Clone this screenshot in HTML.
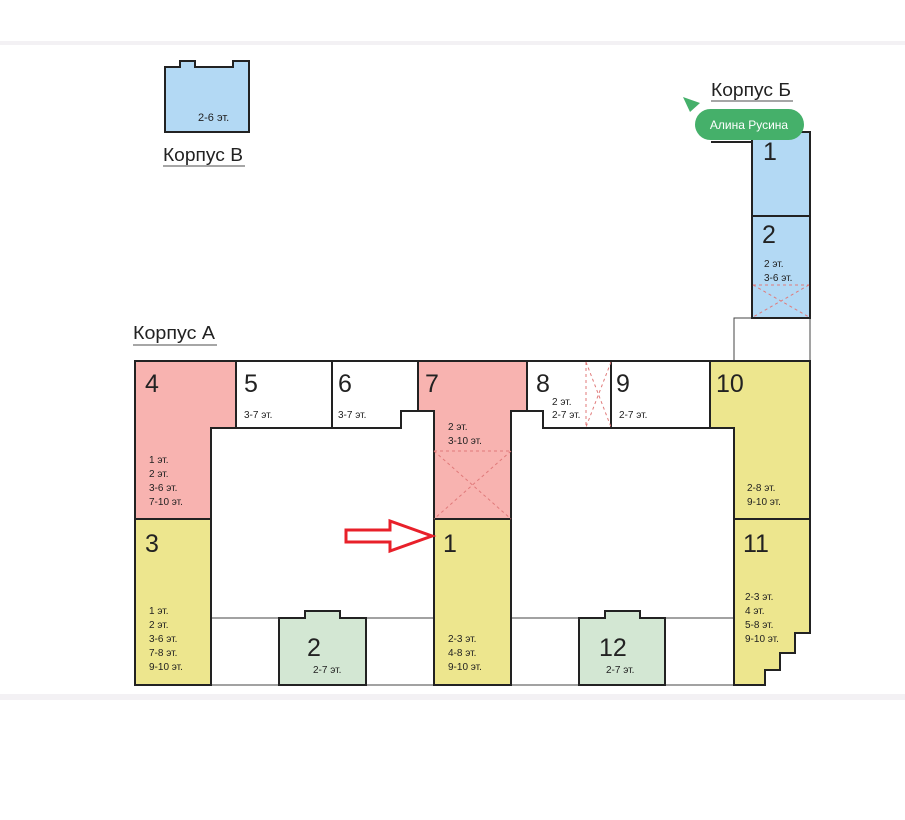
<!DOCTYPE html>
<html><head><meta charset="utf-8"><style>
html,body{margin:0;padding:0;background:#fff;}
svg{display:block;}
text{font-family:"Liberation Sans",sans-serif;fill:#222;}
.n{font-size:25px;}
.s{font-size:10px;}
.l{font-size:18px;}
</style></head><body>
<svg width="905" height="820" viewBox="0 0 905 820" xmlns="http://www.w3.org/2000/svg">
<rect x="0" y="41" width="905" height="4" fill="#f3f1f4"/>
<rect x="0" y="694" width="905" height="6" fill="#f3f1f4"/>

<!-- Korpus V -->
<polygon points="165,67 180,67 180,61 195,61 195,67 233,67 233,61 249,61 249,132 165,132" fill="#b3d9f4" stroke="#222" stroke-width="2"/>
<text class="s" x="198" y="121" style="font-size:11px">2-6 эт.</text>
<text class="l" x="163" y="161" textLength="80" lengthAdjust="spacingAndGlyphs">Корпус В</text>
<line x1="163" y1="166" x2="245" y2="166" stroke="#888" stroke-width="1.5"/>

<!-- Korpus A label -->
<text class="l" x="133" y="339" textLength="82" lengthAdjust="spacingAndGlyphs">Корпус А</text>
<line x1="133" y1="345" x2="217" y2="345" stroke="#888" stroke-width="1.5"/>

<!-- thin lines -->
<g stroke="#444" stroke-width="1" fill="none">
<line x1="211" y1="618" x2="434" y2="618"/>
<line x1="511" y1="618" x2="734" y2="618"/>
<line x1="135" y1="685" x2="734" y2="685"/>
<rect x="734" y="318" width="76" height="43"/>
</g>

<g stroke="#222" stroke-width="2">
<!-- 4 -->
<polygon points="135,361 236,361 236,428 211,428 211,519 135,519" fill="#f8b3b0"/>
<!-- 3 -->
<rect x="135" y="519" width="76" height="166" fill="#ede68e"/>
<!-- 5 -->
<rect x="236" y="361" width="96" height="67" fill="#fff"/>
<!-- 6 -->
<polygon points="332,361 418,361 418,411 401,411 401,428 332,428" fill="#fff"/>
<!-- 7 -->
<polygon points="418,361 527,361 527,411 511,411 511,519 434,519 434,411 418,411" fill="#f8b3b0"/>
<!-- 1 -->
<rect x="434" y="519" width="77" height="166" fill="#ede68e"/>
<!-- 8 -->
<polygon points="527,361 611,361 611,428 543,428 543,411 527,411" fill="#fff"/>
<!-- 9 -->
<rect x="611" y="361" width="99" height="67" fill="#fff"/>
<!-- 10 -->
<polygon points="710,361 810,361 810,519 734,519 734,428 710,428" fill="#ede68e"/>
<!-- 11 -->
<polygon points="734,519 810,519 810,633 795,633 795,653 780,653 780,670 765,670 765,685 734,685" fill="#ede68e"/>
<!-- green -->
<polygon points="279,618 305,618 305,611 340,611 340,618 366,618 366,685 279,685" fill="#d3e7d3"/>
<polygon points="579,618 605,618 605,611 640,611 640,618 665,618 665,685 579,685" fill="#d3e7d3"/>
<!-- Korpus B -->
<rect x="752" y="132" width="58" height="186" fill="#b3d9f4"/>
<line x1="752" y1="216" x2="810" y2="216"/>
<polyline points="711,142 752,142 752,150" fill="none"/>
</g>

<!-- hatches -->
<g stroke="#e07a7a" stroke-width="1" stroke-dasharray="3,3" fill="none">
<line x1="434" y1="451" x2="511" y2="451"/>
<line x1="434" y1="451" x2="511" y2="519"/>
<line x1="511" y1="451" x2="434" y2="519"/>
<line x1="586" y1="362" x2="586" y2="427"/>
<line x1="586" y1="362" x2="611" y2="427"/>
<line x1="611" y1="362" x2="586" y2="427"/>
<line x1="753" y1="285" x2="809" y2="285"/>
<line x1="753" y1="285" x2="809" y2="317"/>
<line x1="809" y1="285" x2="753" y2="317"/>
</g>

<!-- numbers -->
<text class="n" x="145" y="392">4</text>
<text class="n" x="244" y="392">5</text>
<text class="n" x="338" y="392">6</text>
<text class="n" x="425" y="392">7</text>
<text class="n" x="536" y="392">8</text>
<text class="n" x="616" y="392">9</text>
<text class="n" x="716" y="392">10</text>
<text class="n" x="145" y="552">3</text>
<text class="n" x="443" y="552">1</text>
<text class="n" x="743" y="552">11</text>
<text class="n" x="307" y="656">2</text>
<text class="n" x="599" y="656">12</text>
<text class="n" x="763" y="160">1</text>
<text class="n" x="762" y="243">2</text>

<!-- small labels -->
<g class="s">
<text x="244" y="418">3-7 эт.</text>
<text x="338" y="418">3-7 эт.</text>
<text x="448" y="430">2 эт.</text>
<text x="448" y="444">3-10 эт.</text>
<text x="552" y="405">2 эт.</text>
<text x="552" y="418">2-7 эт.</text>
<text x="619" y="418">2-7 эт.</text>
<text x="149" y="463">1 эт.</text>
<text x="149" y="477">2 эт.</text>
<text x="149" y="491">3-6 эт.</text>
<text x="149" y="505">7-10 эт.</text>
<text x="149" y="614">1 эт.</text>
<text x="149" y="628">2 эт.</text>
<text x="149" y="642">3-6 эт.</text>
<text x="149" y="656">7-8 эт.</text>
<text x="149" y="670">9-10 эт.</text>
<text x="448" y="642">2-3 эт.</text>
<text x="448" y="656">4-8 эт.</text>
<text x="448" y="670">9-10 эт.</text>
<text x="313" y="673">2-7 эт.</text>
<text x="606" y="673">2-7 эт.</text>
<text x="747" y="491">2-8 эт.</text>
<text x="747" y="505">9-10 эт.</text>
<text x="745" y="600">2-3 эт.</text>
<text x="745" y="614">4 эт.</text>
<text x="745" y="628">5-8 эт.</text>
<text x="745" y="642">9-10 эт.</text>
<text x="764" y="267">2 эт.</text>
<text x="764" y="281">3-6 эт.</text>
</g>

<!-- Korpus B label -->
<text class="l" x="711" y="96" textLength="80" lengthAdjust="spacingAndGlyphs">Корпус Б</text>
<line x1="711" y1="101" x2="793" y2="101" stroke="#888" stroke-width="1.5"/>

<!-- green pill -->
<polygon points="683,97 700,103 690,112" fill="#45b06a"/>
<rect x="695" y="109" width="109" height="31" rx="15.5" fill="#45b06a"/>
<text x="749" y="129" text-anchor="middle" style="font-size:12px;fill:#fff">Алина Русина</text>

<!-- red arrow -->
<polygon points="346,530 390,530 390,521 432,536 390,551 390,542 346,542" fill="#fff" stroke="#e8202a" stroke-width="3"/>
</svg>
</body></html>
